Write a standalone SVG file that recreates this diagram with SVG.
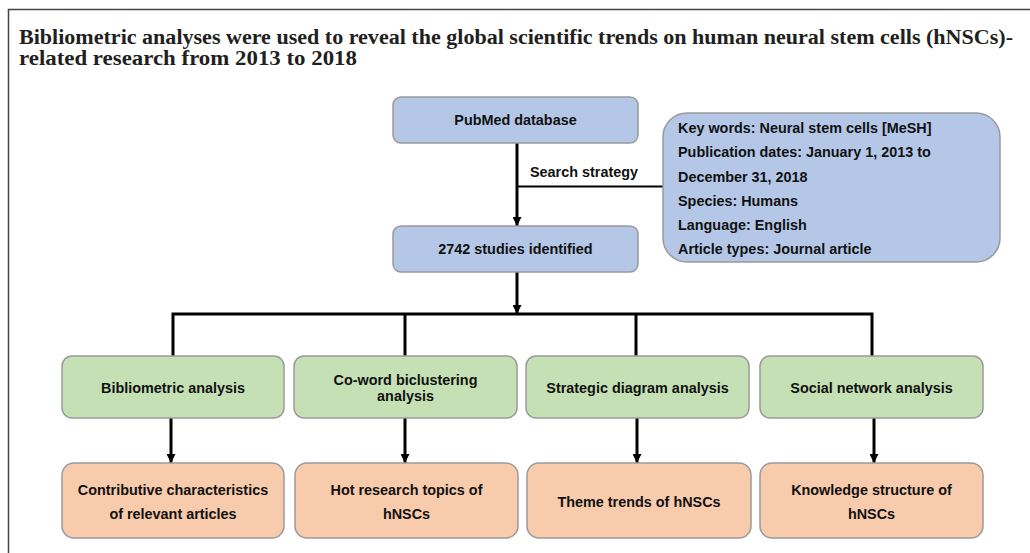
<svg xmlns="http://www.w3.org/2000/svg" width="1030" height="553" viewBox="0 0 1030 553">
<style>
.title{font-family:"Liberation Serif","Times New Roman",serif;font-weight:bold;font-size:20px;fill:#231f20}
.t{font-family:"Liberation Sans",Arial,sans-serif;font-weight:bold;font-size:14.4px;fill:#111}
.c{text-anchor:middle}
.blue{fill:#b4c7e7;stroke:#9a9a9a;stroke-width:1.5}
.green{fill:#c5e0b4;stroke:#9a9a9a;stroke-width:1.5}
.orange{fill:#f8cbad;stroke:#9a9a9a;stroke-width:1.5}
.ln{fill:none;stroke:#000;stroke-width:3}
.thin{fill:none;stroke:#000;stroke-width:2}
</style>
<defs>
<marker id="ah" viewBox="0 0 10 10" refX="10" refY="5" markerWidth="3.4" markerHeight="3" markerUnits="strokeWidth" orient="auto">
<path d="M0,0 L10,5 L0,10 z" fill="#000"/>
</marker>
</defs>
<rect width="1030" height="553" fill="#fff"/>
<path d="M8.5,553 V9.5 H1030" fill="none" stroke="#444" stroke-width="1.5"/>
<g id="title">
<text class="title" x="19" y="44" textLength="994" lengthAdjust="spacingAndGlyphs">Bibliometric analyses were used to reveal the global scientific trends on human neural stem cells (hNSCs)-</text>
<text class="title" x="19" y="65" textLength="338" lengthAdjust="spacingAndGlyphs">related research from 2013 to 2018</text>
</g>
<g id="connectors">
<line class="ln" x1="517" y1="143" x2="517" y2="226" marker-end="url(#ah)"/>
<line class="thin" x1="517" y1="186.5" x2="663" y2="186.5"/>
<text class="t" x="584" y="177" text-anchor="middle">Search strategy</text>
<line class="ln" x1="517" y1="272" x2="517" y2="314" marker-end="url(#ah)"/>
<path class="ln" d="M173,356 V314 H872 V356"/>
<line class="ln" x1="405" y1="314" x2="405" y2="356"/>
<line class="ln" x1="636" y1="314" x2="636" y2="356"/>
<line class="ln" x1="171" y1="418" x2="171" y2="463" marker-end="url(#ah)"/>
<line class="ln" x1="405" y1="418" x2="405" y2="463" marker-end="url(#ah)"/>
<line class="ln" x1="637" y1="418" x2="637" y2="463" marker-end="url(#ah)"/>
<line class="ln" x1="874" y1="418" x2="874" y2="463" marker-end="url(#ah)"/>
</g>
<g id="pubmed">
<rect class="blue" x="393" y="97" width="245" height="46" rx="8"/>
<text class="t c" x="515.5" y="125">PubMed database</text>
</g>
<g id="studies">
<rect class="blue" x="393" y="226" width="245" height="46" rx="8"/>
<text class="t c" x="515.5" y="254">2742 studies identified</text>
</g>
<g id="strategy">
<rect class="blue" x="663" y="113" width="337" height="149" rx="24"/>
<text class="t" x="678" y="133">Key words: Neural stem cells [MeSH]</text>
<text class="t" x="678" y="157">Publication dates: January 1, 2013 to</text>
<text class="t" x="678" y="182">December 31, 2018</text>
<text class="t" x="678" y="206">Species: Humans</text>
<text class="t" x="678" y="230">Language: English</text>
<text class="t" x="678" y="254">Article types: Journal article</text>
</g>
<g id="bibliometric">
<rect class="green" x="62" y="356" width="222" height="62" rx="10"/>
<text class="t c" x="173" y="393">Bibliometric analysis</text>
</g>
<g id="coword">
<rect class="green" x="294" y="356" width="223" height="62" rx="10"/>
<text class="t c" x="405.5" y="385">Co-word biclustering</text>
<text class="t c" x="405.5" y="401">analysis</text>
</g>
<g id="strategic">
<rect class="green" x="526" y="356" width="223" height="62" rx="10"/>
<text class="t c" x="637.5" y="393">Strategic diagram analysis</text>
</g>
<g id="social">
<rect class="green" x="760" y="356" width="223" height="62" rx="10"/>
<text class="t c" x="871.5" y="393">Social network analysis</text>
</g>
<g id="contributive">
<rect class="orange" x="62" y="463" width="222" height="75" rx="12"/>
<text class="t c" x="173" y="495">Contributive characteristics</text>
<text class="t c" x="173" y="519">of relevant articles</text>
</g>
<g id="hot">
<rect class="orange" x="295" y="463" width="223" height="75" rx="12"/>
<text class="t c" x="406.5" y="495">Hot research topics of</text>
<text class="t c" x="406.5" y="519">hNSCs</text>
</g>
<g id="theme">
<rect class="orange" x="527" y="463" width="224" height="75" rx="12"/>
<text class="t c" x="639" y="507">Theme trends of hNSCs</text>
</g>
<g id="knowledge">
<rect class="orange" x="760" y="463" width="223" height="75" rx="12"/>
<text class="t c" x="871.5" y="495">Knowledge structure of</text>
<text class="t c" x="871.5" y="519">hNSCs</text>
</g>
</svg>
